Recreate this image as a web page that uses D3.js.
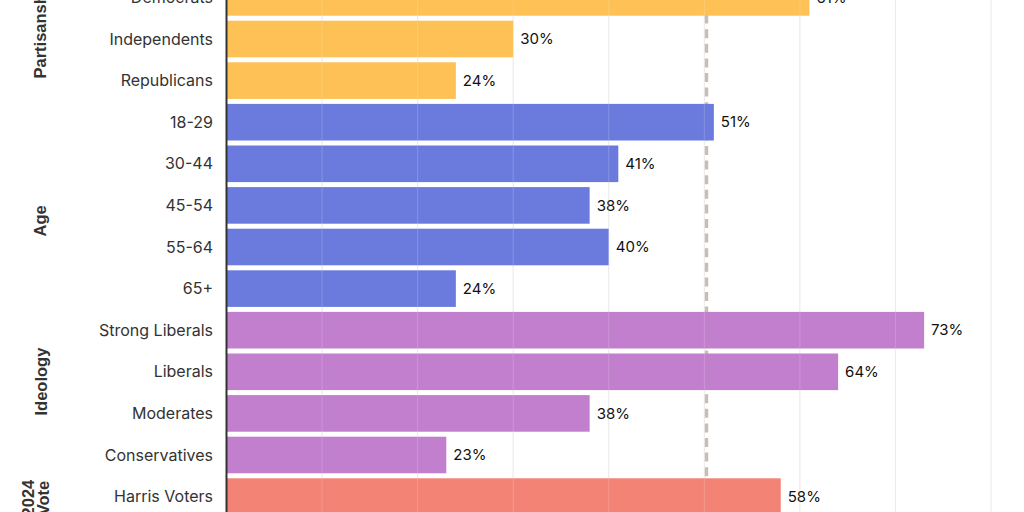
<!DOCTYPE html>
<html>
<head>
<meta charset="utf-8">
<script src="https://cdn.jsdelivr.net/npm/d3@7"></script>
<style>
    body { margin: 0; background: #fff; }
    svg { display: block; }
</style>
</head>
<body>
<div id="chart"></div>
<script>
(function () {
    "use strict";

    // data
    var categories = ["Democrats", "Independents", "Republicans",
        "18-29", "30-44", "45-54", "55-64", "65+",
        "Strong Liberals", "Liberals", "Moderates", "Conservatives",
        "Harris Voters"];
    var values = [61, 30, 24, 51, 41, 38, 40, 24, 73, 64, 38, 23, 58];
    var groupOf = [0, 0, 0, 1, 1, 1, 1, 1, 2, 2, 2, 2, 3];
    var groupNames = [["Partisanship"], ["Age"], ["Ideology"], ["2024", "Vote"]];
    var groupColors = ["#fdc155", "#6b7bdd", "#c17fcd", "#f38375"];
    var referenceValue = 50.2;
    var xTicks = [10, 20, 30, 40, 50, 60, 70, 80];

    var width = 1024, height = 512,
        svg, x, y, rows;

    svg = d3.select("#chart").append("svg")
        .attr("width", width)
        .attr("height", height);

    x = d3.scaleLinear().domain([0, 80]).range([226.5, 991]);
    y = d3.scaleBand().domain(categories)
        .range([-23.4, -23.4 + categories.length * 41.6])
        .paddingInner(0.12)
        .paddingOuter(0.06);

    // average reference line, behind the bars
    svg.append("line")
        .attr("x1", x(referenceValue)).attr("x2", x(referenceValue))
        .attr("y1", 0).attr("y2", height)
        .attr("stroke", "#c9beb4")
        .attr("stroke-width", 4)
        .attr("stroke-dasharray", "9,5.6");

    // gridlines
    svg.append("g").selectAll("line").data(xTicks).enter().append("line")
        .attr("x1", function (d) { return x(d); })
        .attr("x2", function (d) { return x(d); })
        .attr("y1", 0).attr("y2", height)
        .attr("stroke", "#e6e6e6")
        .attr("stroke-width", 1);

    rows = svg.append("g").selectAll("g.row")
        .data(categories).enter().append("g").attr("class", "row");

    rows.append("rect")
        .attr("x", x(0))
        .attr("y", function (d) { return y(d); })
        .attr("width", function (d, i) { return x(values[i]) - x(0); })
        .attr("height", y.bandwidth())
        .attr("fill", function (d, i) { return groupColors[groupOf[i]]; });

    // faint gridlines showing through the bars
    svg.append("g").selectAll("line").data(xTicks).enter().append("line")
        .attr("x1", function (d) { return x(d); })
        .attr("x2", function (d) { return x(d); })
        .attr("y1", 0).attr("y2", height)
        .attr("stroke", "#ffffff")
        .attr("stroke-opacity", 0.18)
        .attr("stroke-width", 1);

    rows.append("text")
        .attr("x", function (d, i) { return x(values[i]) + 7; })
        .attr("y", function (d) { return y(d) + y.bandwidth() / 2; })
        .attr("dy", "0.35em")
        .attr("font-family", "Inter, sans-serif")
        .attr("font-size", 15)
        .attr("fill", "#111")
        .text(function (d, i) { return values[i] + "%"; });

    rows.append("text")
        .attr("x", 213)
        .attr("y", function (d) { return y(d) + y.bandwidth() / 2; })
        .attr("dy", "0.35em")
        .attr("text-anchor", "end")
        .attr("font-family", "Inter, sans-serif")
        .attr("font-size", 16)
        .attr("fill", "#333")
        .text(function (d) { return d; });

    // axis line
    svg.append("line")
        .attr("x1", x(0)).attr("x2", x(0))
        .attr("y1", 0).attr("y2", height)
        .attr("stroke", "#333")
        .attr("stroke-width", 2);

    // group labels, rotated
    var labelShift = [-10, 15.5, -11, 1.5];
    var labelX = [40, 40, 41, 28];
    groupNames.forEach(function (lines, g) {
        var members = categories.filter(function (d, i) { return groupOf[i] === g; }),
            top = y(members[0]),
            bottom = y(members[members.length - 1]) + y.bandwidth(),
            cy = (top + bottom) / 2 + labelShift[g],
            t;
        t = svg.append("text")
            .attr("transform", "translate(" + labelX[g] + "," + cy + ") rotate(-90)")
            .attr("text-anchor", "middle")
            .attr("font-family", "'Liberation Sans', Arial, sans-serif")
            .attr("font-weight", "bold")
            .attr("font-size", 16.5)
            .attr("fill", "#333");
        lines.forEach(function (line, k) {
            t.append("tspan")
                .attr("x", 0)
                .attr("dy", k === 0 ? "0.35em" : "0.95em")
                .text(line);
        });
    });
}());
</script>
</body>
</html>
